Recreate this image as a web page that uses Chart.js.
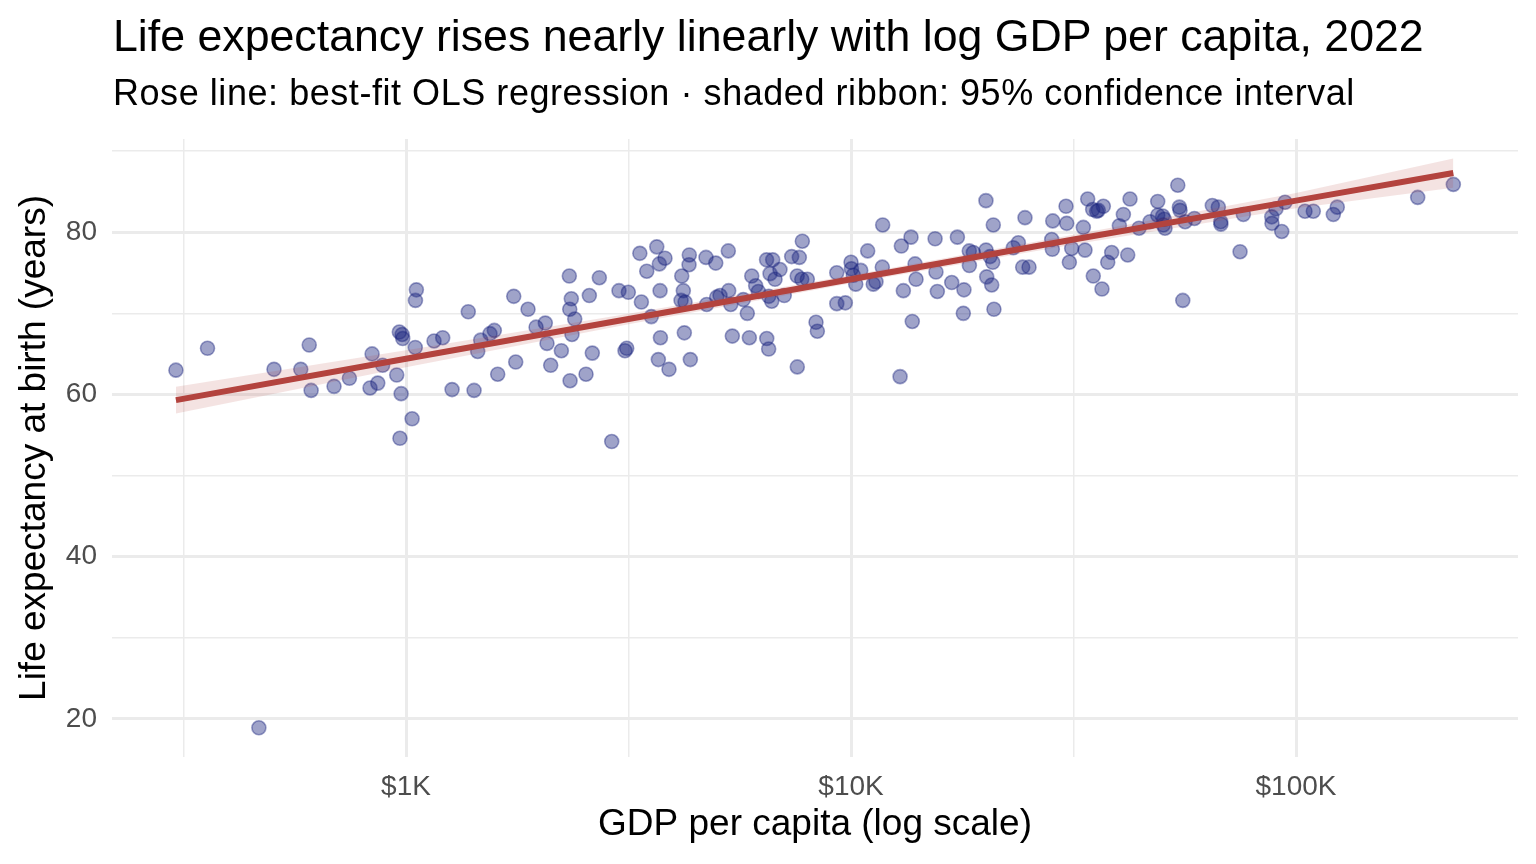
<!DOCTYPE html>
<html>
<head>
<meta charset="utf-8">
<title>Life expectancy vs GDP per capita</title>
<script src="https://cdn.jsdelivr.net/npm/chart.js@4.4.1/dist/chart.umd.min.js"></script>
<style>
  body { margin: 0; background: #fff; }
  #wrap { position: relative; width: 1536px; height: 864px; font-family: "Liberation Sans", Arial, sans-serif; }
  #title { position: absolute; left: 113px; top: 13px; font-size: 44.7px; line-height: 45px; color: #000; white-space: nowrap; }
  #subtitle { position: absolute; left: 113px; top: 75px; font-size: 36px; line-height: 36px; letter-spacing: 0.55px; color: #000; white-space: nowrap; }
  #chart { position: absolute; left: 0; top: 0; }
</style>
</head>
<body>
<div id="wrap">
  <canvas id="chart" width="1536" height="864"></canvas>
  <div id="title">Life expectancy rises nearly linearly with log GDP per capita, 2022</div>
  <div id="subtitle">Rose line: best-fit OLS regression · shaded ribbon: 95% confidence interval</div>
</div>
<script>
// one entry per country: GDP per capita (US$) and life expectancy (years)
const gdp = [
  304, 358, 505, 606, 580, 612, 689, 746, 839, 886,
  830, 864, 953, 966, 980, 983, 1049, 1055, 1050, 1156,
  1209, 975, 1032, 969, 1269, 1380, 467, 1422, 1449, 1472,
  1544, 1579, 1607, 1764, 1746, 1880, 1960, 2056, 2074, 2114,
  2234, 2337, 2328, 2352, 2333, 2394, 2360, 2538, 2582, 2719,
  2622, 2899, 3010, 3159, 3133, 3105, 3380, 3353, 3660, 3819,
  3709, 3475, 3723, 3558, 3730, 3690, 3899, 4331, 4325, 4165,
  4199, 4150, 4236, 4722, 4966, 4739, 4991, 4221, 4354, 5300,
  5077, 5310, 5367, 5728, 5847, 5411, 5909, 6466, 6530, 7573,
  5983, 6106, 6190, 6460, 6668, 6577, 6749, 6924, 6534, 6634,
  7079, 7356, 7653, 7773, 7570, 7750, 7976, 8343, 8401, 9289,
  9290, 9710, 10000, 10020, 10120, 10515, 10247, 11220, 11380, 10900,
  11757, 11780, 12890, 12975, 13640, 13930, 14000, 13110, 13730, 15450,
  15520, 15630, 16840, 17940, 17880, 17340, 18440, 18830, 18450, 20110,
  20530, 20820, 20180, 20710, 20880, 20950, 20100, 24600, 23770, 23160,
  24310, 25120, 28400, 30420, 30530, 28250, 28340, 30950, 31330, 33270,
  33560, 34030, 34920, 35650, 36900, 35950, 35030, 36640, 38530, 37750,
  40090, 40930, 42360, 41860, 44380, 46980, 48890, 48900, 50160, 50580,
  50770, 50330, 54240, 54690, 54880, 55660, 56330, 59100, 64850, 66900,
  67740, 67800, 74860, 76150, 88200, 88300, 90160, 94470, 92880, 104760,
  109360, 121300, 123800, 187700, 225700
];
const lifeExp = [
  63.0, 65.7, 63.1, 66.1, 63.1, 60.5, 61.0, 62.0, 65.0, 63.6,
  60.8, 61.4, 62.4, 67.7, 67.4, 66.9, 65.8, 72.9, 71.6, 66.6,
  67.0, 60.1, 57.0, 54.6, 60.6, 70.2, 18.9, 60.5, 65.3, 66.7,
  67.5, 67.9, 62.5, 64.0, 72.1, 70.5, 68.3, 68.8, 66.3, 63.6,
  65.4, 61.7, 74.6, 71.8, 70.5, 69.3, 67.4, 62.5, 72.2, 74.4,
  65.1, 54.2, 72.8, 72.6, 65.7, 65.4, 71.4, 77.4, 78.2, 76.8,
  76.1, 75.2, 72.8, 69.6, 67.0, 64.3, 63.1, 77.2, 76.0, 74.6,
  72.8, 71.6, 71.4, 76.9, 76.2, 71.1, 72.0, 67.6, 64.3, 77.7,
  72.2, 72.8, 71.1, 71.7, 70.0, 67.2, 67.0, 66.9, 65.6, 63.4,
  74.6, 73.4, 72.7, 76.6, 76.6, 74.9, 74.2, 75.4, 72.1, 71.5,
  72.2, 77.0, 76.9, 78.9, 74.6, 74.2, 74.2, 68.9, 67.8, 75.0,
  71.2, 71.3, 76.3, 75.5, 74.7, 75.3, 73.6, 73.6, 73.9, 77.7,
  75.7, 80.9, 62.2, 78.3, 79.4, 76.1, 74.2, 72.8, 69.0, 79.2,
  75.1, 72.7, 73.8, 72.9, 70.0, 79.4, 77.7, 77.5, 75.9, 77.8,
  77.0, 76.3, 74.5, 73.5, 80.9, 70.5, 83.9, 81.8, 78.7, 78.1,
  75.7, 75.7, 81.4, 83.2, 81.1, 79.1, 77.9, 76.3, 78.0, 80.6,
  77.8, 84.1, 82.8, 82.6, 83.2, 82.7, 74.6, 73.0, 77.5, 76.3,
  80.8, 82.2, 84.1, 77.2, 80.5, 81.3, 83.8, 82.1, 82.0, 81.6,
  80.5, 80.9, 85.8, 83.1, 82.7, 71.6, 81.3, 81.7, 83.3, 83.1,
  81.3, 81.0, 77.6, 82.2, 81.9, 81.1, 82.9, 83.7, 80.1, 82.6,
  82.6, 82.2, 83.1, 84.3, 85.9
];

// OLS fit and 95% band
const fitGdp  = [304, 1000, 3162, 10000, 31623, 100000, 225700];
const fitLife = [59.3, 64.4, 69.3, 74.2, 79.1, 83.9, 87.3];
const ciLow   = [57.65, 63.35, 68.65, 73.7, 78.5, 82.95, 85.5];
const ciHigh  = [60.95, 65.45, 69.95, 74.7, 79.7, 84.85, 89.1];

// axis ticks (empty label = minor gridline)
const xTicks = [316.2, 1000, 3162, 10000, 31623, 100000];
const xTickLabels = ['', '$1K', '', '$10K', '', '$100K'];
const yTicks = [20, 30, 40, 50, 60, 70, 80, 90];
const yTickLabels = ['20', '', '40', '', '60', '', '80', ''];

const FONT = '"Liberation Sans", Arial, sans-serif';
const GRID = '#ebebeb';
const ROSE = '#b3433e';

function pts(xs, ys) {
  return xs.map((x, i) => ({ x: x, y: ys[i] }));
}

const ctx = document.getElementById('chart').getContext('2d');
new Chart(ctx, {
  type: 'scatter',
  data: {
    datasets: [
      {
        type: 'line',
        data: pts(fitGdp, ciLow),
        borderWidth: 0,
        pointRadius: 0,
        fill: false,
        order: 1
      },
      {
        type: 'line',
        data: pts(fitGdp, ciHigh),
        borderWidth: 0,
        pointRadius: 0,
        fill: '-1',
        backgroundColor: 'rgba(179, 67, 62, 0.15)',
        order: 1
      },
      {
        type: 'line',
        data: pts(fitGdp, fitLife),
        borderColor: ROSE,
        borderWidth: 6,
        pointRadius: 0,
        fill: false,
        order: 0
      },
      {
        data: pts(gdp, lifeExp),
        backgroundColor: 'rgba(26, 35, 126, 0.42)',
        borderColor: 'rgba(26, 35, 126, 0.42)',
        borderWidth: 1.6,
        pointRadius: 7,
        order: 3
      }
    ]
  },
  options: {
    responsive: false,
    animation: false,
    events: [],
    layout: { padding: { top: 139, right: 18, left: 0, bottom: 0 } },
    plugins: {
      legend: { display: false },
      tooltip: { enabled: false }
    },
    scales: {
      x: {
        type: 'logarithmic',
        min: 218.4,
        max: 315400,
        afterBuildTicks: (s) => { s.ticks = xTicks.map(v => ({ value: v })); },
        afterFit: (s) => { s.height = 107; },
        border: { display: false },
        grid: {
          color: GRID,
          drawTicks: false,
          lineWidth: (c) => (xTickLabels[c.index] ? 3 : 1.5)
        },
        ticks: {
          autoSkip: false,
          maxRotation: 0,
          padding: 13,
          color: '#4d4d4d',
          font: { family: FONT, size: 28 },
          callback: (v, i) => xTickLabels[i]
        },
        title: {
          display: true,
          text: 'GDP per capita (log scale)',
          color: '#000',
          font: { family: FONT, size: 37 },
          padding: { top: 0, bottom: 17 }
        }
      },
      y: {
        type: 'linear',
        min: 15.3,
        max: 91.5,
        afterBuildTicks: (s) => { s.ticks = yTicks.map(v => ({ value: v })); },
        afterFit: (s) => { s.width = 112; },
        border: { display: false },
        grid: {
          color: GRID,
          drawTicks: false,
          lineWidth: (c) => (yTickLabels[c.index] ? 3 : 1.5)
        },
        ticks: {
          autoSkip: false,
          padding: 15,
          color: '#4d4d4d',
          font: { family: FONT, size: 28 },
          callback: (v, i) => yTickLabels[i]
        },
        title: {
          display: true,
          text: 'Life expectancy at birth (years)',
          color: '#000',
          font: { family: FONT, size: 37 },
          padding: { top: 13, bottom: 0 }
        }
      }
    }
  }
});
</script>
</body>
</html>
